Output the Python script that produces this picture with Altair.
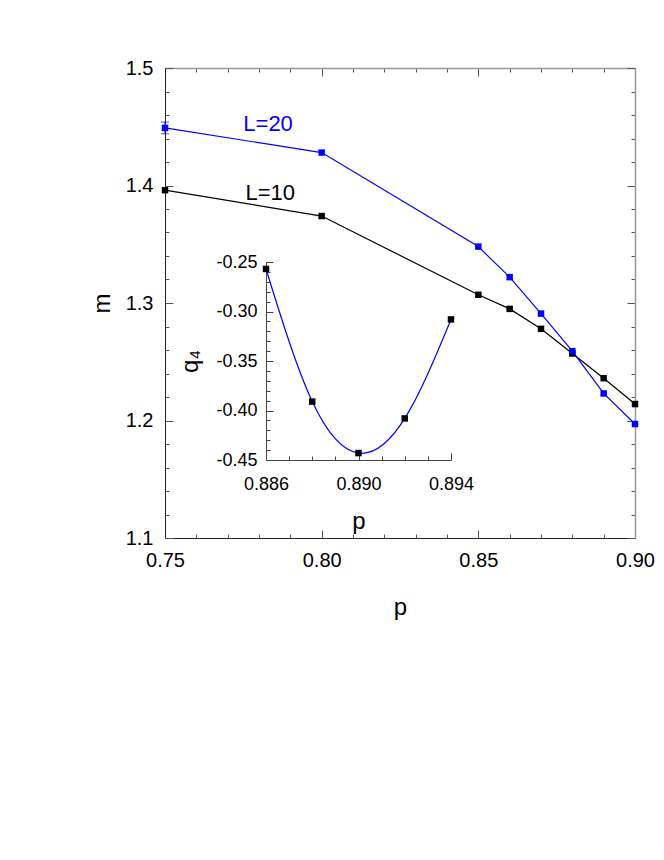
import altair as alt
import pandas as pd

# ---------------- data ----------------
p_main = [0.75, 0.80, 0.85, 0.86, 0.87, 0.88, 0.89, 0.90]
m_L10 = [1.396, 1.374, 1.307, 1.295, 1.278, 1.257, 1.236, 1.214]
m_L20 = [1.449, 1.428, 1.348, 1.322, 1.291, 1.259, 1.223, 1.197]

err_p = [0.75]
err_m = [1.449]
err_size = [0.005]

p_inset = [0.886, 0.888, 0.890, 0.892, 0.894]
q4_inset = [-0.257, -0.391, -0.443, -0.408, -0.308]

series_labels = ["L=10", "L=20"]
series_colors = ["black", "blue"]
label_p = [0.7836, 0.7829]
label_m = [1.3936, 1.4523]

x_major = [0.75, 0.80, 0.85, 0.90]
x_minor = [0.76, 0.77, 0.78, 0.79, 0.81, 0.82, 0.83, 0.84, 0.86, 0.87, 0.88, 0.89]
y_major = [1.1, 1.2, 1.3, 1.4, 1.5]
y_minor = [1.12, 1.14, 1.16, 1.18, 1.22, 1.24, 1.26, 1.28, 1.32, 1.34, 1.36, 1.38,
           1.42, 1.44, 1.46, 1.48]
ix_major = [0.886, 0.890, 0.894]
ix_minor = [0.887, 0.888, 0.889, 0.891, 0.892, 0.893]
iy_major = [-0.45, -0.40, -0.35, -0.30, -0.25]
iy_minor = [-0.44, -0.43, -0.42, -0.41, -0.39, -0.38, -0.37, -0.36, -0.34, -0.33,
            -0.32, -0.31, -0.29, -0.28, -0.27, -0.26]

FONT = "Liberation Sans"
W, H = 470, 470

df10 = pd.DataFrame({"p": p_main, "m": m_L10})
df20 = pd.DataFrame({"p": p_main, "m": m_L20})
df_err = pd.DataFrame({"p": err_p,
                       "lo": [m - e for m, e in zip(err_m, err_size)],
                       "hi": [m + e for m, e in zip(err_m, err_size)]})
df_lab = pd.DataFrame({"p": label_p, "m": label_m, "text": series_labels,
                       "color": series_colors})
df_in = pd.DataFrame({"p": p_inset, "q": q4_inset})

XS = alt.Scale(domain=[0.75, 0.90], nice=False, zero=False)
YS = alt.Scale(domain=[1.1, 1.5], nice=False, zero=False)
IXS = alt.Scale(domain=[0.886, 0.894], range=[101, 286], nice=False, zero=False)
IYS = alt.Scale(domain=[-0.45, -0.25], range=[392, 194], nice=False, zero=False)


def ax(orient, **kw):
    base = dict(orient=orient, grid=False, labels=False, ticks=False, domain=False,
                title=None, labelFlush=False, labelOverlap=False)
    base.update(kw)
    return alt.Axis(**base)


def mx(axis=None, field="p"):
    return alt.X(f"{field}:Q", scale=XS, axis=axis)


def my(axis=None, field="m"):
    return alt.Y(f"{field}:Q", scale=YS, axis=axis)


layers = []

# ---------------- main frame axes ----------------
TICKC = "#555"
lab_x = ax("bottom", values=x_major, labels=True, format=".2f", labelFontSize=20,
           labelFont=FONT, labelColor="black", labelPadding=12, domain=True,
           domainColor="#222", title="p", titleFont=FONT, titleFontSize=24,
           titleFontWeight="normal", titleColor="black", titleX=W / 2, titleY=76,
           titleBaseline="alphabetic", titleAlign="center")
lab_y = ax("left", values=y_major, labels=True, format=".1f", labelFontSize=20,
           labelFont=FONT, labelColor="black", labelPadding=12, domain=True,
           domainColor="#222", title="m", titleFont=FONT, titleFontSize=24,
           titleFontWeight="normal", titleColor="black", titleAngle=270,
           titleX=-56, titleY=H / 2, titleBaseline="alphabetic", titleAlign="center")
layers.append(alt.Chart(df10).mark_point(opacity=0).encode(x=mx(lab_x), y=my(lab_y)))

for vals_x, vals_y, size in [(x_major, y_major, 8), (x_minor, y_minor, 4)]:
    layers.append(alt.Chart(df10).mark_point(opacity=0).encode(
        x=mx(ax("bottom", values=vals_x, ticks=True, tickSize=size, offset=-size,
                tickColor=TICKC)),
        y=my(ax("left", values=vals_y, ticks=True, tickSize=size, offset=-size,
                tickColor=TICKC))))
    layers.append(alt.Chart(df10).mark_point(opacity=0).encode(
        x=mx(ax("top", values=vals_x, ticks=True, tickSize=size, offset=-size,
                tickColor=TICKC)),
        y=my(ax("right", values=vals_y, ticks=True, tickSize=size, offset=-size,
                tickColor=TICKC))))

layers.append(alt.Chart(df10).mark_point(opacity=0).encode(
    x=mx(ax("top", domain=True, domainColor="#999", domainWidth=1.5)),
    y=my(ax("right", domain=True, domainColor="#999", domainWidth=1.5))))

# ---------------- main data ----------------
layers.append(alt.Chart(df10).mark_line(color="black", strokeWidth=1.2).encode(x=mx(), y=my()))
layers.append(alt.Chart(df20).mark_line(color="blue", strokeWidth=1.2).encode(x=mx(), y=my()))
layers.append(alt.Chart(df_err).mark_rule(color="blue", strokeWidth=1).encode(
    x=mx(), y=my(field="lo"), y2="hi:Q"))
for f in ["lo", "hi"]:
    layers.append(alt.Chart(df_err).mark_tick(orient="horizontal", size=8, thickness=1,
                                              color="blue").encode(x=mx(), y=my(field=f)))
layers.append(alt.Chart(df10).mark_square(size=42, color="black", opacity=1).encode(x=mx(), y=my()))
layers.append(alt.Chart(df20).mark_square(size=42, color="blue", opacity=1).encode(x=mx(), y=my()))
layers.append(alt.Chart(df_lab).mark_text(fontSize=22, font=FONT, align="center",
                                          baseline="middle").encode(
    x=mx(), y=my(), text="text:N", color=alt.Color("color:N", scale=None)))

# ---------------- inset ----------------
def ix(axis=None):
    return alt.X("p:Q", scale=IXS, axis=axis)


def iy(axis=None):
    return alt.Y("q:Q", scale=IYS, axis=axis)


ICOL = "#444"
in_lab_x = ax("bottom", values=ix_major, labels=True, format=".3f", labelFontSize=18,
              labelFont=FONT, labelColor="black", labelPadding=15, domain=True,
              domainColor=ICOL, offset=-78, title="p", titleFont=FONT,
              titleFontSize=24, titleFontWeight="normal", titleColor="black",
              titleX=193.5, titleY=68, titleBaseline="alphabetic", titleAlign="center")
in_lab_y = ax("left", values=iy_major, labels=True,
              labelExpr="(datum.value < 0 ? '-' : '') + format(abs(datum.value), '.2f')",
              labelFontSize=18, labelFont=FONT, labelColor="black", labelPadding=9,
              domain=True, domainColor=ICOL, offset=-101, title="q\u2084",
              titleFont=FONT, titleFontSize=24, titleFontWeight="normal",
              titleColor="black", titleAngle=270, titleX=-69, titleY=293,
              titleBaseline="alphabetic", titleAlign="center")
layers.append(alt.Chart(df_in).mark_point(opacity=0).encode(x=ix(in_lab_x), y=iy(in_lab_y)))
for vx, vy, size in [(ix_major, iy_major, 7), (ix_minor, iy_minor, 4)]:
    layers.append(alt.Chart(df_in).mark_point(opacity=0).encode(
        x=ix(ax("bottom", values=vx, ticks=True, tickSize=size, offset=-78 - size,
                tickColor=ICOL)),
        y=iy(ax("left", values=vy, ticks=True, tickSize=size, offset=-101 - size,
                tickColor=ICOL))))

layers.append(alt.Chart(df_in).mark_line(color="blue", strokeWidth=1.2,
                                         interpolate="natural").encode(x=ix(), y=iy()))
layers.append(alt.Chart(df_in).mark_square(size=42, color="black", opacity=1).encode(x=ix(), y=iy()))

chart = alt.layer(*layers).resolve_scale(
    x="independent", y="independent"
).resolve_axis(
    x="independent", y="independent"
).properties(
    width=W, height=H,
    autosize=alt.AutoSizeParams(type="none"),
    padding={"left": 157, "top": 60, "right": 20, "bottom": 120},
    background="white",
).configure_view(stroke=None).configure(font=FONT)

chart.save("out.html", embed_options={"renderer": "svg", "actions": False})
